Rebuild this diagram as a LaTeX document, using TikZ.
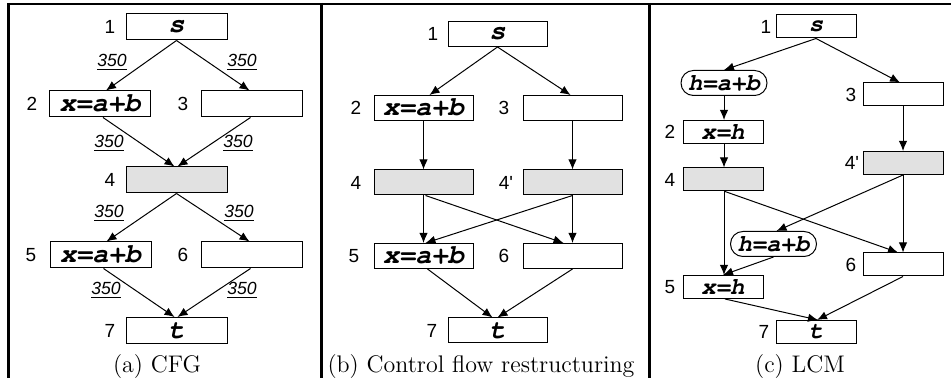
\documentclass[tikz,border=0pt]{standalone}
\usepackage{fontspec}
\newfontfamily\codefam{TeX Gyre Cursor}
\newfontfamily\labfont{Liberation Sans}
\usetikzlibrary{arrows.meta,calc}
\definecolor{blockgray}{RGB}{225,225,225}
\newcommand\codefontA{\fontsize{13.5}{15}\selectfont\codefam\bfseries\itshape}
\newcommand\codefontC{\fontsize{12}{14}\selectfont\codefam\bfseries\itshape}
\tikzset{
  frame/.style={line width=1.5pt},
  blk/.style={draw,line width=0.5pt,inner sep=0pt,minimum width=50.5pt,minimum height=13pt,font=\codefontA},
  blkb/.style={blk,minimum width=49.5pt,minimum height=12.5pt},
  blkc/.style={blk,minimum width=40pt,minimum height=11.5pt,font=\codefontC},
  pill/.style={draw,line width=0.5pt,inner sep=0pt,minimum width=43pt,minimum height=12.5pt,rounded corners=6.2pt,font=\codefontC},
  shaded/.style={fill=blockgray},
  num/.style={inner sep=0pt,font=\labfont\fontsize{9.5}{11}\selectfont},
  freq/.style={inner sep=0pt,font=\labfont\itshape\fontsize{8.8}{10}\selectfont},
  captext/.style={inner sep=0pt,font=\fontsize{12}{14}\selectfont},
  arr/.style={-{Latex[length=5pt,width=4.2pt]},line width=0.5pt},
}
\begin{document}
\begin{tikzpicture}[x=0.5pt,y=-0.5pt]
\useasboundingbox (0,0) rectangle (951,378);

% frame and panel separators
\draw[line width=1pt] (7,4) -- (951,4);
\draw[frame] (8.5,3) -- (8.5,378);
\draw[frame] (321.5,3) -- (321.5,378);
\draw[frame] (649.5,3) -- (649.5,378);

% ---------- (a) CFG ----------
\node[blk] (a1) at (176.5,27) {s};
\node[blk] (a2) at (100,104) {x=a+b};
\node[blk] (a3) at (251.5,104) {};
\node[blk,shaded] (a4) at (176.5,180) {};
\node[blk] (a5) at (100.5,255) {x=a+b};
\node[blk] (a6) at (251.5,255) {};
\node[blk] (a7) at (176.5,330.5) {t};

\node[num] (la1) at (110,27) {1};
\node[num] (la2) at (32,104) {2};
\node[num] (la3) at (183,104) {3};
\node[num] (la4) at (110,180) {4};
\node[num] (la5) at (31,255) {5};
\node[num] (la6) at (183,255) {6};
\node[num] (la7) at (110,330.5) {7};

\draw[arr] (a1.south) -- ($(a2.north)+(6,0)$);
\draw[arr] (a1.south) -- ($(a3.north)+(-2,0)$);
\draw[arr] ($(a2.south)+(3,0)$) -- ($(a4.north)+(-2,0)$);
\draw[arr] ($(a3.south)+(-1,0)$) -- ($(a4.north)+(1,0)$);
\draw[arr] (a4.south) -- ($(a5.north)+(6,0)$);
\draw[arr] (a4.south) -- ($(a6.north)+(-2,0)$);
\draw[arr] ($(a5.south)+(3,0)$) -- ($(a7.north)+(-2,0)$);
\draw[arr] ($(a6.south)+(-1,0)$) -- ($(a7.north)+(1,0)$);

\node[freq] (fa1) at (112,62) {\underline{350}};
\node[freq] (fa2) at (242,62) {\underline{350}};
\node[freq] (fa3) at (109,143) {\underline{350}};
\node[freq] (fa4) at (238,143) {\underline{350}};
\node[freq] (fa5) at (109,213) {\underline{350}};
\node[freq] (fa6) at (239,213) {\underline{350}};
\node[freq] (fa7) at (106,290) {\underline{350}};
\node[freq] (fa8) at (242,290) {\underline{350}};

\node[captext] (capa) at (157,367) {(a) CFG};

% ---------- (b) Control flow restructuring ----------
\node[blkb] (b1) at (497.5,34) {s};
\node[blkb] (b2) at (423.5,108) {x=a+b};
\node[blkb] (b3) at (572.5,108) {};
\node[blkb,shaded] (b4) at (423.5,182.5) {};
\node[blkb,shaded] (b4p) at (572.5,182.5) {};
\node[blkb] (b5) at (423.5,256) {x=a+b};
\node[blkb] (b6) at (572.5,256) {};
\node[blkb] (b7) at (497.5,330.5) {t};

\node[num] (lb1) at (433,34) {1};
\node[num] (lb2) at (356,108) {2};
\node[num] (lb3) at (504,108) {3};
\node[num] (lb4) at (356,182.5) {4};
\node[num] (lb4p) at (506,182.5) {4'};
\node[num] (lb5) at (354,256) {5};
\node[num] (lb6) at (504,256) {6};
\node[num] (lb7) at (432,330.5) {7};

\draw[arr] (b1.south) -- ($(b2.north)+(6,0)$);
\draw[arr] (b1.south) -- ($(b3.north)+(-2,0)$);
\draw[arr] (b2.south) -- (b4.north);
\draw[arr] (b3.south) -- (b4p.north);
\draw[arr] (b4.south) -- (b5.north);
\draw[arr] ($(b4.south)+(2,0)$) -- ($(b6.north)+(-9,0)$);
\draw[arr] (b4p.south) -- ($(b5.north)+(2,0)$);
\draw[arr] (b4p.south) -- (b6.north);
\draw[arr] ($(b5.south)+(4,0)$) -- ($(b7.north)+(-5,0)$);
\draw[arr] (b6.south) -- (b7.north);

\node[captext] (capb) at (481,367) {(b) Control flow restructuring};

% ---------- (c) LCM ----------
\node[blkc] (c1) at (816,26.5) {s};
\node[pill] (h1) at (724,83) {h=a+b};
\node[blkc] (c3) at (903,94.5) {};
\node[blkc] (c2) at (723,132) {x=h};
\node[blkc,shaded] (c4) at (723,179.5) {};
\node[blkc,shaded] (c4p) at (903,163) {};
\node[pill] (h2) at (773.5,244) {h=a+b};
\node[blkc] (c6) at (903,264.5) {};
\node[blkc] (c5) at (723,287) {x=h};
\node[blkc] (c7) at (816,332) {t};

\node[num] (lc1) at (766,26.5) {1};
\node[num] (lc3) at (851,94.5) {3};
\node[num] (lc2) at (670,132) {2};
\node[num] (lc4) at (670,179.5) {4};
\node[num] (lc4p) at (852,163) {4'};
\node[num] (lc6) at (851,264.5) {6};
\node[num] (lc5) at (670,287) {5};
\node[num] (lc7) at (764,332) {7};

\draw[arr] (c1.south) -- (h1.north);
\draw[arr] (c1.south) -- ($(c3.north)+(-3,0)$);
\draw[arr] (h1.south) -- ($(c2.north)+(1,0)$);
\draw[arr] ($(c2.south)+(1,0)$) -- ($(c4.north)+(1,0)$);
\draw[arr] (c3.south) -- (c4p.north);
\draw[arr] ($(c4.south)+(1,0)$) -- ($(c5.north)+(1,0)$);
\draw[arr] ($(c4.south)+(2,0)$) -- ($(c6.north)+(-5,0)$);
\draw[arr] (c4p.south) -- ($(h2.north)+(3,0)$);
\draw[arr] (c4p.south) -- (c6.north);
\draw[arr] (h2.south) -- (c5.north);
\draw[arr] ($(c5.south)+(2,0)$) -- ($(c7.north)+(2,0)$);
\draw[arr] (c6.south) -- ($(c7.north)+(1,0)$);

\node[captext] (capc) at (800,367) {(c) LCM};
\end{tikzpicture}
\end{document}
